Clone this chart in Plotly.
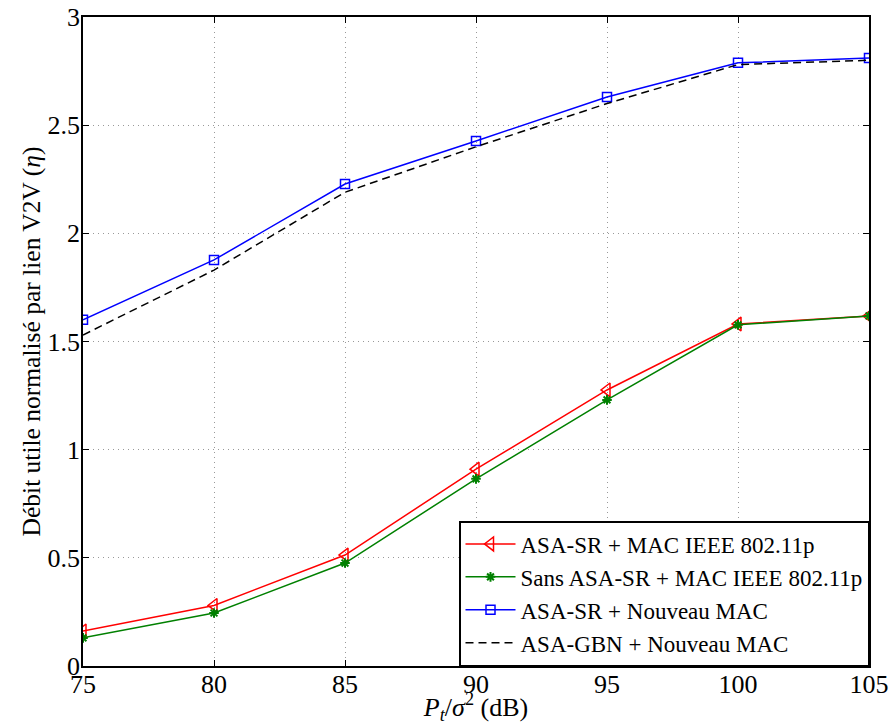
import plotly.graph_objects as go

x_snr = [75, 80, 85, 90, 95, 100, 105]
asa_sr_ieee = [0.162, 0.28, 0.513, 0.91, 1.276, 1.581, 1.618]
sans_asa_ieee = [0.13, 0.245, 0.476, 0.865, 1.23, 1.577, 1.618]
asa_sr_new = [1.60, 1.877, 2.228, 2.427, 2.63, 2.788, 2.81]
asa_gbn_new = [1.53, 1.83, 2.19, 2.40, 2.60, 2.78, 2.80]

x_ticks = [75, 80, 85, 90, 95, 100, 105]
y_ticks = [0, 0.5, 1, 1.5, 2, 2.5, 3]
y_ticktext = ["0", "0.5", "1", "1.5", "2", "2.5", "3"]

names = ["ASA-SR + MAC IEEE 802.11p", "Sans ASA-SR + MAC IEEE 802.11p",
         "ASA-SR + Nouveau MAC", "ASA-GBN + Nouveau MAC"]

FONT = "Liberation Serif"

fig = go.Figure()
fig.add_trace(go.Scatter(x=x_snr, y=asa_sr_ieee, name=names[0], mode="lines+markers",
                         line=dict(color="#ff0000", width=1.5),
                         marker=dict(symbol="triangle-left-open", size=12, color="#ff0000",
                                     line=dict(width=1.5))))
fig.add_trace(go.Scatter(x=x_snr, y=sans_asa_ieee, name=names[1], mode="lines+markers",
                         line=dict(color="#008000", width=1.5),
                         marker=dict(symbol="asterisk-open", size=8, color="#008000",
                                     line=dict(width=2, color="#008000"))))
fig.add_trace(go.Scatter(x=x_snr, y=asa_sr_new, name=names[2], mode="lines+markers",
                         line=dict(color="#0000ff", width=1.5),
                         marker=dict(symbol="square-open", size=9, color="#0000ff",
                                     line=dict(width=1.5))))
fig.add_trace(go.Scatter(x=x_snr, y=asa_gbn_new, name=names[3], mode="lines",
                         line=dict(color="#000000", width=1.5, dash="8px,5px")))

axis_common = dict(showline=True, linecolor="black", linewidth=1.5, mirror="ticks",
                   ticks="inside", ticklen=6, tickcolor="black", automargin=False,
                   showgrid=True, gridcolor="#999999", griddash="1px,4px", gridwidth=1,
                   zeroline=False, tickfont=dict(family=FONT, size=26, color="black"))

fig.update_xaxes(range=[75, 105], tickvals=x_ticks, ticklabelstandoff=-6,
                 title=dict(text="<i>P</i><sub><i>t</i></sub>/<i>σ</i><sup>2</sup> (dB)",
                            font=dict(family=FONT, size=26, color="black"), standoff=5),
                 **axis_common)
fig.update_yaxes(range=[0, 3], tickvals=y_ticks, ticktext=y_ticktext, ticklabelstandoff=-4,
                 title=dict(text="Débit utile normalisé par lien V2V (<i>η</i>)",
                            font=dict(family=FONT, size=25.5, color="black"), standoff=0),
                 **axis_common)

fig.update_layout(
    width=891, height=725,
    margin=dict(l=83, r=22, t=17, b=59),
    plot_bgcolor="white", paper_bgcolor="white",
    font=dict(family=FONT, color="black"),
    legend=dict(x=1, y=0, xanchor="right", yanchor="bottom",
                bgcolor="white", bordercolor="black", borderwidth=1.5,
                font=dict(family=FONT, size=23, color="black"),
                itemwidth=50),
    showlegend=True,
)

fig.write_html("out.html", config={"displayModeBar": False},
               post_script="document.body.style.margin='0';")
